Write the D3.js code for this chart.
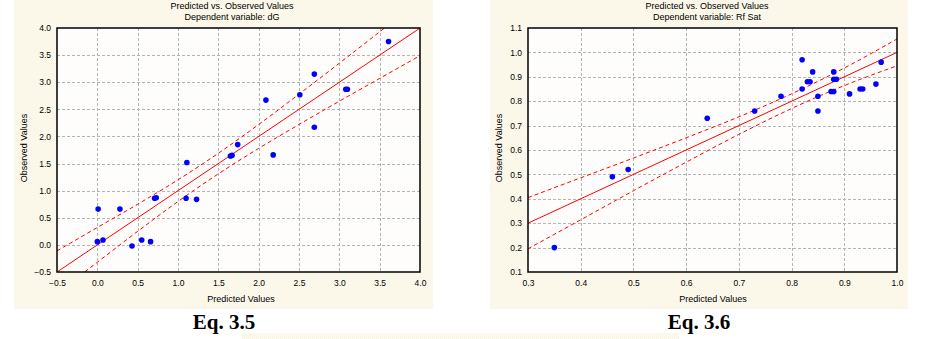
<!DOCTYPE html>
<html>
<head>
<meta charset="utf-8">
<script src="https://cdn.jsdelivr.net/npm/d3@7/dist/d3.min.js"></script>
<style>
  html, body { margin: 0; padding: 0; background: #ffffff; }
  svg { display: block; }
  text { font-family: Arial, "Liberation Sans", sans-serif; fill: #000; }
</style>
</head>
<body>
<svg id="chart" width="943" height="339"></svg>
<script>
// ---- Eq. 3.5 : dependent variable dG ----
const dgPredicted = [0.00, 0.01, 0.07, 0.28, 0.43, 0.55, 0.66, 0.71, 0.73, 1.10, 1.11, 1.23,
                     1.65, 1.67, 1.74, 2.09, 2.18, 2.51, 2.69, 2.69, 3.08, 3.10, 3.61];
const dgObserved  = [0.06, 0.66, 0.09, 0.66, -0.02, 0.09, 0.06, 0.86, 0.87, 0.86, 1.52, 0.84,
                     1.64, 1.65, 1.85, 2.67, 1.66, 2.77, 3.15, 2.17, 2.87, 2.87, 3.75];
const dgFitX   = [-0.5, 4.0];
const dgFitY   = [-0.5, 4.0];
const dgBandX  = [-0.5, 0.0, 0.5, 1.0, 1.5, 2.0, 2.5, 3.0, 3.5, 4.0];
const dgUpper  = [-0.11, 0.32, 0.75, 1.20, 1.69, 2.22, 2.78, 3.35, 3.93, 4.51];
const dgLower  = [-0.89, -0.32, 0.25, 0.80, 1.31, 1.78, 2.22, 2.65, 3.07, 3.49];
const dgTicks  = [-0.5, 0.0, 0.5, 1.0, 1.5, 2.0, 2.5, 3.0, 3.5, 4.0];

// ---- Eq. 3.6 : dependent variable Rf Sat ----
const rfPredicted = [0.35, 0.46, 0.49, 0.64, 0.73, 0.78, 0.82, 0.82, 0.84, 0.83, 0.835, 0.85,
                     0.85, 0.88, 0.88, 0.885, 0.88, 0.875, 0.91, 0.93, 0.935, 0.96, 0.97];
const rfObserved  = [0.20, 0.49, 0.52, 0.73, 0.76, 0.82, 0.97, 0.85, 0.92, 0.88, 0.88, 0.82,
                     0.76, 0.92, 0.89, 0.89, 0.84, 0.84, 0.83, 0.85, 0.85, 0.87, 0.96];
const rfFitX   = [0.3, 1.0];
const rfFitY   = [0.3, 1.0];
const rfBandX  = [0.3, 0.4, 0.5, 0.6, 0.7, 0.8, 0.9, 1.0];
const rfUpper  = [0.405, 0.486, 0.567, 0.650, 0.736, 0.830, 0.936, 1.055];
const rfLower  = [0.195, 0.314, 0.433, 0.550, 0.664, 0.770, 0.864, 0.945];
const rfXTicks = [0.3, 0.4, 0.5, 0.6, 0.7, 0.8, 0.9, 1.0];
const rfYTicks = [0.1, 0.2, 0.3, 0.4, 0.5, 0.6, 0.7, 0.8, 0.9, 1.0, 1.1];

const titleLine = "Predicted vs. Observed Values";
const xLabel = "Predicted Values";
const yLabel = "Observed Values";

const svg = d3.select("#chart");

// textured beige panels behind each chart
const defs = svg.append("defs");
const pat = defs.append("pattern").attr("id", "dither")
  .attr("width", 2).attr("height", 2).attr("patternUnits", "userSpaceOnUse");
pat.append("rect").attr("width", 2).attr("height", 2).attr("fill", "#fdfaf0");
pat.append("rect").attr("width", 1).attr("height", 1).attr("fill", "#faf4e4");
pat.append("rect").attr("x", 1).attr("y", 1).attr("width", 1).attr("height", 1).attr("fill", "#faf4e4");

const pat2 = defs.append("pattern").attr("id", "dither2")
  .attr("width", 2).attr("height", 2).attr("patternUnits", "userSpaceOnUse");
pat2.append("rect").attr("width", 2).attr("height", 2).attr("fill", "#ffffff");
pat2.append("rect").attr("width", 1).attr("height", 1).attr("fill", "#fbf9f2");

function drawPanel(cfg) {
  const g = svg.append("g");

  g.append("rect")
    .attr("x", cfg.panel[0]).attr("y", cfg.panel[1])
    .attr("width", cfg.panel[2]).attr("height", cfg.panel[3])
    .attr("fill", "url(#dither)");

  const x = d3.scaleLinear().domain(cfg.xDomain).range([cfg.left, cfg.right]);
  const y = d3.scaleLinear().domain(cfg.yDomain).range([cfg.bottom, cfg.top]);

  g.append("rect")
    .attr("x", cfg.left).attr("y", cfg.top)
    .attr("width", cfg.right - cfg.left).attr("height", cfg.bottom - cfg.top)
    .attr("fill", "url(#dither2)");

  const clipId = "clip-" + cfg.id;
  defs.append("clipPath").attr("id", clipId)
    .append("rect")
    .attr("x", cfg.left).attr("y", cfg.top)
    .attr("width", cfg.right - cfg.left).attr("height", cfg.bottom - cfg.top);

  // grid
  const grid = g.append("g")
    .attr("stroke", "#b4b4b4").attr("stroke-width", 1)
    .attr("stroke-dasharray", "3,2");
  cfg.xTicks.slice(1, -1).forEach(t => {
    grid.append("line")
      .attr("x1", Math.round(x(t)) + 0.5).attr("x2", Math.round(x(t)) + 0.5)
      .attr("y1", cfg.top).attr("y2", cfg.bottom);
  });
  cfg.yTicks.slice(1, -1).forEach(t => {
    grid.append("line")
      .attr("x1", cfg.left).attr("x2", cfg.right)
      .attr("y1", Math.round(y(t)) + 0.5).attr("y2", Math.round(y(t)) + 0.5);
  });

  const plot = g.append("g").attr("clip-path", `url(#${clipId})`);

  // confidence bands
  const bandLine = d3.line()
    .x(d => x(d[0])).y(d => y(d[1]))
    .curve(d3.curveMonotoneX);
  [cfg.upper, cfg.lower].forEach(arr => {
    plot.append("path")
      .datum(cfg.bandX.map((v, i) => [v, arr[i]]))
      .attr("d", bandLine)
      .attr("fill", "none").attr("stroke", "#ff0000")
      .attr("stroke-width", 1).attr("stroke-dasharray", "4,3");
  });

  // fitted line
  plot.append("path")
    .datum(cfg.fitX.map((v, i) => [v, cfg.fitY[i]]))
    .attr("d", d3.line().x(d => x(d[0])).y(d => y(d[1])))
    .attr("fill", "none").attr("stroke", "#ff0000").attr("stroke-width", 1);

  // observations
  plot.append("g").selectAll("circle")
    .data(cfg.px.map((v, i) => [v, cfg.py[i]]))
    .join("circle")
    .attr("cx", d => x(d[0])).attr("cy", d => y(d[1]))
    .attr("r", 2.8).attr("fill", "#0000ff");

  // axes
  const fmt = d3.format(".1f");
  const xAxis = g.append("g")
    .attr("transform", `translate(0,${cfg.bottom})`)
    .call(d3.axisBottom(x).tickValues(cfg.xTicks).tickFormat(fmt).tickSize(0).tickPadding(8));
  const yAxis = g.append("g")
    .attr("transform", `translate(${cfg.left},0)`)
    .call(d3.axisLeft(y).tickValues(cfg.yTicks).tickFormat(fmt).tickSize(0).tickPadding(6));
  [xAxis, yAxis].forEach(a => {
    a.select(".domain").remove();
    a.selectAll("text")
      .style("font-family", "Arial, 'Liberation Sans', sans-serif")
      .style("font-size", "8.5px").attr("fill", "#000");
  });

  // frame
  g.append("rect")
    .attr("x", cfg.left).attr("y", cfg.top)
    .attr("width", cfg.right - cfg.left).attr("height", cfg.bottom - cfg.top)
    .attr("fill", "none").attr("stroke", "#000").attr("stroke-width", 1.5);

  // titles and labels
  g.append("text").attr("x", cfg.titleX).attr("y", 9)
    .attr("text-anchor", "middle").style("font-size", "9px").text(titleLine);
  g.append("text").attr("x", cfg.titleX).attr("y", 20)
    .attr("text-anchor", "middle").style("font-size", "9px").text(cfg.subtitle);
  g.append("text").attr("x", cfg.xLabelX).attr("y", 302)
    .attr("text-anchor", "middle").style("font-size", "9px").text(xLabel);
  g.append("text")
    .attr("transform", `translate(${cfg.yLabelX},148) rotate(-90)`)
    .attr("text-anchor", "middle").style("font-size", "9px").text(yLabel);

  // caption
  svg.append("text").attr("x", cfg.captionX).attr("y", 329)
    .attr("text-anchor", "middle")
    .style("font-family", "'Liberation Serif', 'Times New Roman', serif")
    .style("font-weight", "bold").style("font-size", "21px")
    .text(cfg.caption);
}

drawPanel({
  id: "dg", panel: [14, 0, 419, 309],
  left: 57, right: 420, top: 28, bottom: 272,
  xDomain: [-0.5, 4.0], yDomain: [-0.5, 4.0],
  xTicks: dgTicks, yTicks: dgTicks,
  px: dgPredicted, py: dgObserved,
  fitX: dgFitX, fitY: dgFitY,
  bandX: dgBandX, upper: dgUpper, lower: dgLower,
  subtitle: "Dependent variable: dG",
  titleX: 232, xLabelX: 241, yLabelX: 27,
  caption: "Eq. 3.5", captionX: 224
});

drawPanel({
  id: "rf", panel: [490, 0, 418, 309],
  left: 528, right: 897, top: 28, bottom: 272,
  xDomain: [0.3, 1.0], yDomain: [0.1, 1.1],
  xTicks: rfXTicks, yTicks: rfYTicks,
  px: rfPredicted, py: rfObserved,
  fitX: rfFitX, fitY: rfFitY,
  bandX: rfBandX, upper: rfUpper, lower: rfLower,
  subtitle: "Dependent variable: Rf Sat",
  titleX: 707, xLabelX: 713, yLabelX: 502,
  caption: "Eq. 3.6", captionX: 699
});

// strip of beige below the captions
svg.append("rect").attr("x", 242).attr("y", 333)
  .attr("width", 437).attr("height", 6).attr("fill", "url(#dither)");
</script>
</body>
</html>
